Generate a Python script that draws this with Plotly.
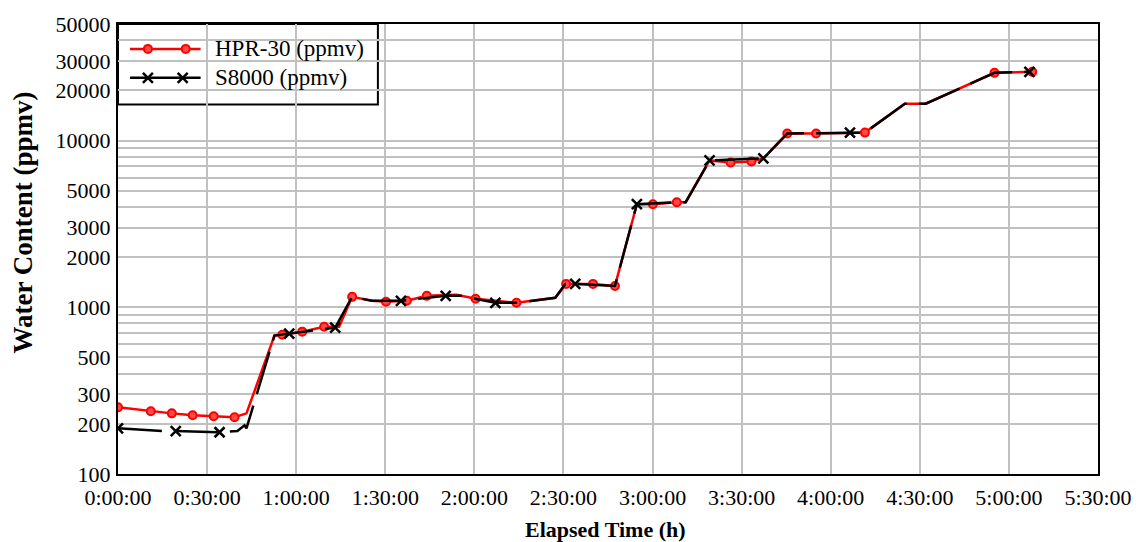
import plotly.graph_objects as go

# HPR-30 readings: elapsed time (hours) and water content (ppmv)
hpr_hours = [0.000, 0.184, 0.302, 0.419, 0.537, 0.654, 0.721, 0.878, 0.922, 1.034,
             1.157, 1.241, 1.314, 1.425, 1.504, 1.621, 1.733, 1.900, 2.007, 2.236,
             2.454, 2.515, 2.666, 2.789, 2.912, 3.002, 3.136, 3.186, 3.320, 3.438,
             3.555, 3.622, 3.756, 3.918, 4.192, 4.416, 4.533, 4.919, 5.131]
hpr_ppmv = [251, 238, 231, 225, 222, 219, 231, 676, 685, 714,
            765, 765, 1155, 1094, 1079, 1094, 1171, 1188, 1124, 1064,
            1140, 1381, 1381, 1343, 4150, 4150, 4266, 4266, 7600, 7390,
            7496, 7810, 11010, 11010, 11160, 16630, 16630, 25470, 25820]
hpr_marked = [0, 1, 2, 3, 4, 5, 8, 9, 10, 12, 14, 15, 16, 18, 19, 21, 22, 23,
              25, 26, 29, 30, 32, 33, 34, 37, 38]

# S8000 readings
s8000_hours = [0.000, 0.140, 0.250, 0.324, 0.570, 0.670, 0.710, 0.721, 0.878, 0.961,
               1.219, 1.314, 1.425, 1.588, 1.839, 1.923, 2.007, 2.118, 2.247, 2.454,
               2.510, 2.566, 2.789, 2.912, 3.141, 3.186, 3.320, 3.622, 3.756, 4.108,
               4.192, 4.416, 4.533, 4.919, 5.115]
s8000_ppmv = [188, 183, 181, 181, 178, 181, 196, 188, 676, 695,
              755, 1155, 1094, 1094, 1171, 1171, 1124, 1064, 1064, 1140,
              1381, 1381, 1343, 4150, 4266, 4266, 7600, 7810, 11010, 11160,
              11160, 16630, 16630, 25470, 25820]
s8000_marked = [0, 3, 4, 9, 10, 13, 14, 17, 21, 23, 26, 27, 29, 34]

# Axis ticks
x_tick_hours = [0, 0.5, 1, 1.5, 2, 2.5, 3, 3.5, 4, 4.5, 5, 5.5]
x_tick_text = ["0:00:00", "0:30:00", "1:00:00", "1:30:00", "2:00:00", "2:30:00",
               "3:00:00", "3:30:00", "4:00:00", "4:30:00", "5:00:00", "5:30:00"]
y_grid_vals = [100, 200, 300, 400, 500, 600, 700, 800, 900,
               1000, 2000, 3000, 4000, 5000, 6000, 7000, 8000, 9000,
               10000, 20000, 30000, 40000, 50000]
y_labelled = [100, 200, 300, 500, 1000, 2000, 3000, 5000, 10000, 20000, 30000, 50000]

SERIF = "Liberation Serif"
RED = "#ff0000"
BLACK = "#000000"

red_marker = dict(symbol="circle", size=8, color="#ff4a4a", line=dict(color=RED, width=2))
x_marker = dict(symbol="x-thin-open", size=10, color=BLACK, line=dict(color=BLACK, width=2.5))

fig = go.Figure()

# HPR-30 line and its markers
fig.add_trace(go.Scatter(x=hpr_hours, y=hpr_ppmv, mode="lines",
                         line=dict(color=RED, width=2.5), hoverinfo="skip"))
fig.add_trace(go.Scatter(x=[hpr_hours[i] for i in hpr_marked],
                         y=[hpr_ppmv[i] for i in hpr_marked],
                         mode="markers", marker=red_marker))

# S8000 line (dashed so the red trace shows through) and its markers
fig.add_trace(go.Scatter(x=s8000_hours, y=s8000_ppmv, mode="lines",
                         line=dict(color=BLACK, width=2.5, dash="44px,12px"),
                         hoverinfo="skip"))
fig.add_trace(go.Scatter(x=[s8000_hours[i] for i in s8000_marked],
                         y=[s8000_ppmv[i] for i in s8000_marked],
                         mode="markers", marker=x_marker))

# Legend glyphs on an overlay axis spanning the plot area
ROW1, ROW2 = 0.9447, 0.8805
fig.add_trace(go.Scatter(x=[0.0122, 0.0843], y=[ROW1, ROW1], mode="lines",
                         line=dict(color=RED, width=2.5), xaxis="x2", yaxis="y2"))
fig.add_trace(go.Scatter(x=[0.0305, 0.0691], y=[ROW1, ROW1], mode="markers",
                         marker=red_marker, xaxis="x2", yaxis="y2"))
fig.add_trace(go.Scatter(x=[0.0122, 0.0843], y=[ROW2, ROW2], mode="lines",
                         line=dict(color=BLACK, width=2.5), xaxis="x2", yaxis="y2"))
fig.add_trace(go.Scatter(x=[0.0305, 0.066], y=[ROW2, ROW2], mode="markers",
                         marker=x_marker, xaxis="x2", yaxis="y2"))

fig.update_layout(
    width=1144, height=542,
    margin=dict(l=118, r=42, t=22, b=68),
    paper_bgcolor="white", plot_bgcolor="white",
    showlegend=False,
    font=dict(family=SERIF, color=BLACK, size=22),
    xaxis=dict(range=[0, 5.5], tickvals=x_tick_hours, ticktext=x_tick_text,
               showgrid=True, gridcolor="#c0c0c0", gridwidth=2,
               showline=True, linecolor=BLACK, linewidth=2, mirror=True,
               ticks="", zeroline=False, ticklabelstandoff=3,
               tickfont=dict(family=SERIF, size=22, color=BLACK)),
    yaxis=dict(type="log", range=[2, 4.69897],
               tickvals=y_grid_vals,
               ticktext=[str(v) if v in y_labelled else "" for v in y_grid_vals],
               showgrid=True, gridcolor="#c0c0c0", gridwidth=2,
               showline=True, linecolor=BLACK, linewidth=2, mirror=True,
               ticks="", zeroline=False, ticklabelstandoff=1,
               tickfont=dict(family=SERIF, size=22, color=BLACK)),
    xaxis2=dict(range=[0, 1], overlaying="x", visible=False, fixedrange=True),
    yaxis2=dict(range=[0, 1], overlaying="y", visible=False, fixedrange=True),
    shapes=[dict(type="rect", xref="paper", yref="paper", x0=0, x1=0.2652,
                 y0=0.821, y1=1, fillcolor="white",
                 line=dict(color=BLACK, width=2), layer="between")],
    annotations=[
        dict(text="HPR-30 (ppmv)", xref="paper", yref="paper", x=0.0965, y=ROW1,
             xanchor="left", yanchor="middle", showarrow=False,
             font=dict(family=SERIF, size=23, color=BLACK)),
        dict(text="S8000 (ppmv)", xref="paper", yref="paper", x=0.0965, y=ROW2,
             xanchor="left", yanchor="middle", showarrow=False,
             font=dict(family=SERIF, size=23, color=BLACK)),
        dict(text="<b>Water Content (ppmv)</b>", xref="paper", yref="paper",
             x=-0.0965, y=0.56, textangle=-90, xanchor="center", yanchor="middle",
             showarrow=False, font=dict(family=SERIF, size=27, color=BLACK)),
        dict(text="<b>Elapsed Time (h)</b>", xref="paper", yref="paper",
             x=0.497, y=-0.124, xanchor="center", yanchor="middle",
             showarrow=False, font=dict(family=SERIF, size=22, color=BLACK)),
    ],
)

fig.write_html("out.html")
